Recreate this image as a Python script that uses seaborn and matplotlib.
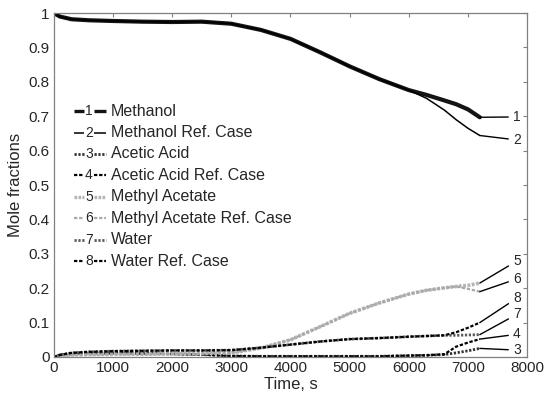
import matplotlib
matplotlib.use("Agg")
import matplotlib.pyplot as plt
import seaborn as sns
import pandas as pd
import numpy as np

# Data
time_s = [0, 100, 300, 600, 1000, 1500, 2000, 2500, 3000, 3500, 4000,
          4500, 5000, 5500, 6000, 6300, 6600, 6800, 7000, 7200]

methanol = [1.0, 0.99, 0.982, 0.979, 0.977, 0.975, 0.974, 0.975, 0.969, 0.951, 0.925,
            0.886, 0.845, 0.808, 0.776, 0.762, 0.746, 0.735, 0.720, 0.697]
methanol_ref = [1.0, 0.99, 0.982, 0.979, 0.977, 0.975, 0.974, 0.975, 0.969, 0.951, 0.925,
                0.886, 0.845, 0.808, 0.776, 0.752, 0.718, 0.690, 0.665, 0.644]
acetic_acid = [0.0, 0.006, 0.010, 0.011, 0.011, 0.010, 0.009, 0.007, 0.003, 0.002, 0.002,
               0.002, 0.002, 0.002, 0.004, 0.005, 0.007, 0.012, 0.018, 0.025]
acetic_acid_ref = [0.0, 0.006, 0.010, 0.011, 0.011, 0.010, 0.009, 0.007, 0.003, 0.002, 0.002,
                   0.002, 0.002, 0.002, 0.004, 0.005, 0.008, 0.030, 0.042, 0.052]
methyl_acetate = [0.0, 0.003, 0.006, 0.007, 0.008, 0.008, 0.009, 0.010, 0.012, 0.026, 0.050,
                  0.088, 0.127, 0.157, 0.183, 0.194, 0.201, 0.205, 0.208, 0.215]
methyl_acetate_ref = [0.0, 0.003, 0.006, 0.007, 0.008, 0.008, 0.009, 0.010, 0.012, 0.026, 0.050,
                      0.088, 0.127, 0.157, 0.183, 0.194, 0.201, 0.205, 0.198, 0.190]
water = [0.0, 0.006, 0.012, 0.015, 0.017, 0.018, 0.019, 0.019, 0.020, 0.027, 0.036,
         0.045, 0.052, 0.055, 0.059, 0.061, 0.063, 0.063, 0.064, 0.065]
water_ref = [0.0, 0.006, 0.012, 0.015, 0.017, 0.018, 0.019, 0.019, 0.020, 0.027, 0.036,
             0.045, 0.052, 0.055, 0.059, 0.061, 0.063, 0.072, 0.085, 0.100]

names = ["Methanol", "Methanol Ref. Case", "Acetic Acid", "Acetic Acid Ref. Case",
         "Methyl Acetate", "Methyl Acetate Ref. Case", "Water", "Water Ref. Case"]
series = [methanol, methanol_ref, acetic_acid, acetic_acid_ref,
          methyl_acetate, methyl_acetate_ref, water, water_ref]
label_y = [0.698, 0.631, 0.020, 0.066, 0.279, 0.227, 0.124, 0.171]

# line styles (colour, width, dashes)
styles = [
    ("#141414", 3.0, ()),
    ("black", 1.1, ()),
    ("#333333", 2.0, (0.8, 0.6)),
    ("black", 1.6, (1.5, 0.8)),
    ("#b4b4b4", 2.6, (0.8, 0.4)),
    ("#a8a8a8", 1.6, (1.5, 0.8)),
    ("#5a5a5a", 2.0, (0.8, 0.6)),
    ("black", 1.6, (1.5, 0.8)),
]

df = pd.concat([pd.DataFrame({"Time": time_s, "x": s, "Species": n})
                for n, s in zip(names, series)], ignore_index=True)

sns.set_theme(style="white")
plt.rcParams["font.family"] = ["Liberation Sans", "DejaVu Sans"]
plt.rcParams["xtick.direction"] = "in"
plt.rcParams["ytick.direction"] = "in"

fig = plt.figure(figsize=(5.44, 3.96), dpi=100)
ax = fig.add_axes([0.099, 0.0985, 0.87, 0.8685])

for n, (c, lw, dash) in zip(names, styles):
    sns.lineplot(data=df[df["Species"] == n], x="Time", y="x", ax=ax,
                 color=c, linewidth=lw, dashes=False, legend=False)
    ln = ax.lines[-1]
    if dash:
        ln.set_dashes(dash)

# numbered leader lines at the curve ends
for k, (s, ly) in enumerate(zip(series, label_y)):
    ax.annotate(str(k + 1), xy=(time_s[-1], s[-1]), xytext=(7760, ly),
                fontsize=10, va="center", ha="left",
                arrowprops=dict(arrowstyle="-", color="black", lw=1.0,
                                shrinkA=1, shrinkB=0))

# MATLAB-like legend with the number inside the sample line
leg_y0, leg_dy = 0.715, 0.0623
for k, (n, (c, lw, dash)) in enumerate(zip(names, styles)):
    yy = leg_y0 - k * leg_dy
    for xa, xb in [(0.042, 0.064), (0.084, 0.110)]:
        l, = ax.plot([xa, xb], [yy, yy], transform=ax.transAxes, color=c,
                     linewidth=min(lw, 2.4), solid_capstyle="butt")
        if dash:
            l.set_dashes(dash)
    ax.text(0.074, yy, str(k + 1), transform=ax.transAxes, fontsize=10,
            ha="center", va="center")
    ax.text(0.120, yy, n, transform=ax.transAxes, fontsize=11.5,
            ha="left", va="center")

ax.set_xlim(0, 8000)
ax.set_ylim(0, 1)
ax.set_xticks(np.arange(0, 8001, 1000))
ax.set_yticks(np.arange(0, 1.01, 0.1))
ax.set_yticklabels(["0", "0.1", "0.2", "0.3", "0.4", "0.5", "0.6", "0.7", "0.8", "0.9", "1"])
ax.tick_params(axis="both", labelsize=11, length=3, width=0.8, color="#808080",
               top=True, right=True, pad=3)
for sp in ax.spines.values():
    sp.set_color("#808080")
    sp.set_linewidth(0.9)
ax.set_xlabel("Time, s", fontsize=12, labelpad=1)
ax.set_ylabel("Mole fractions", fontsize=12, labelpad=4)

fig.savefig("out.png", dpi=100)
